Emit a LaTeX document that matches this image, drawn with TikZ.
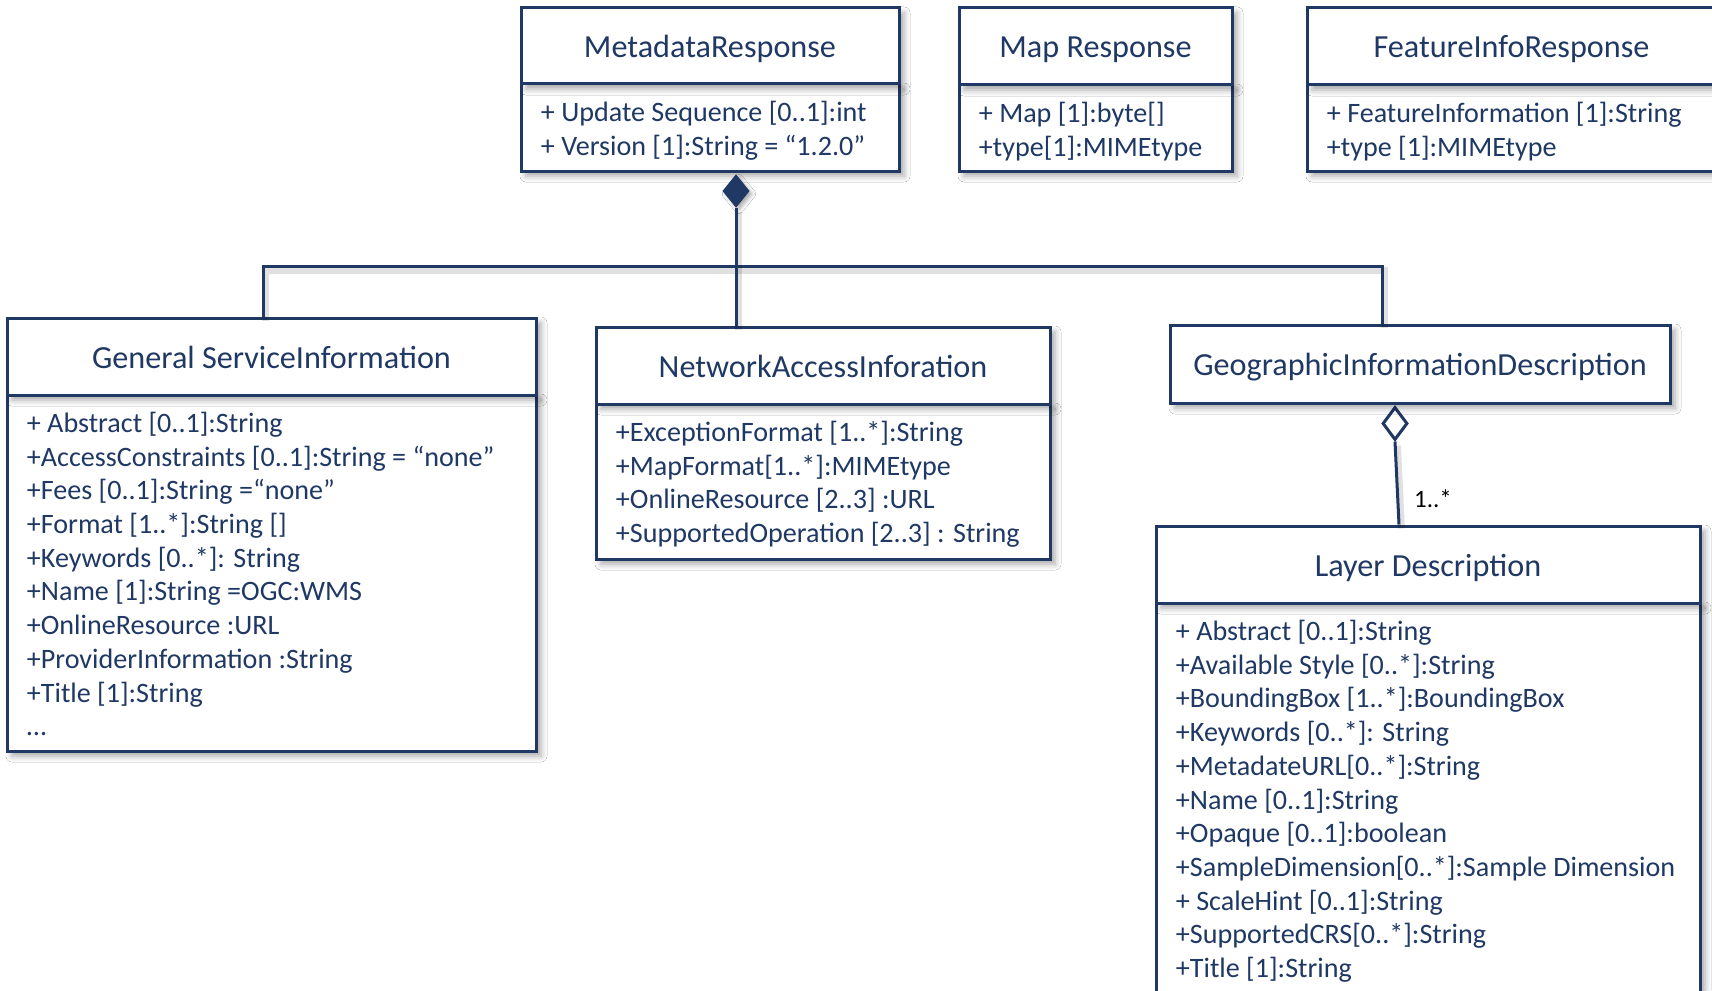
\documentclass[tikz,border=0pt]{standalone}
\usepackage{fontspec}
\setmainfont{Carlito}
\usetikzlibrary{shapes.geometric,shadows.blur,calc}
\definecolor{umlnavy}{HTML}{1F3864}
\tikzset{
  classbox/.style={rectangle, draw=umlnavy, line width=1.5pt, fill=white, inner sep=0pt,
    blur shadow={shadow xshift=2.5pt, shadow yshift=-2.5pt, shadow blur radius=3pt, shadow opacity=35}},
  classhead/.style={classbox, text=umlnavy, font=\fontsize{16.1}{19}\selectfont,
    text height=12.5pt, text depth=1pt},
  attrlist/.style={anchor=north west, align=left, inner sep=0pt, text=umlnavy,
    font=\fontsize{14.05}{16.85}\selectfont},
  wire/.style={draw=umlnavy, line width=1.5pt,
    preaction={draw=black, opacity=0.12, line width=3.5pt, transform canvas={shift={(1.2pt,-2pt)}}}},
  multlabel/.style={inner sep=0pt, text=black, font=\fontsize{12.5}{15}\selectfont},
}
\begin{document}
\begin{tikzpicture}[x=0.5pt, y=-0.5pt]
\useasboundingbox (0,0) rectangle (1712,990);
\fill[white] (0,0) rectangle (1712,990);

% junction points of the composition tree
\coordinate (jl) at (263,266);
\coordinate (jr) at (1382,266);

% ---------- MetadataResponse ----------
\node[classbox, minimum width=189pt, minimum height=43.5pt] (mrb) at (710,127.5) {};
\node[classhead, minimum width=189pt, minimum height=38pt] (mrh) at (710,46) {MetadataResponse};
\node[attrlist] (mrt) at ($(mrb.north west)+(21,15)$)
  {\strut + Update Sequence [0..1]:int\\+ Version [1]:String = “1.2.0”};

% ---------- Map Response ----------
\node[classbox, minimum width=136.5pt, minimum height=43pt] (mpb) at (1095.5,128) {};
\node[classhead, minimum width=136.5pt, minimum height=38.5pt] (mph) at (1095.5,46.5) {Map Response};
\node[attrlist] (mpt) at ($(mpb.north west)+(21,15)$)
  {\strut + Map [1]:byte[]\\+type[1]:MIMEtype};

% ---------- FeatureInfoResponse ----------
\node[classbox, minimum width=204.5pt, minimum height=43pt] (fib) at (1511.5,128) {};
\node[classhead, minimum width=204.5pt, minimum height=38.5pt] (fih) at (1511.5,46.5) {FeatureInfoResponse};
\node[attrlist] (fit) at ($(fib.north west)+(21,15)$)
  {\strut + FeatureInformation [1]:String\\+type [1]:MIMEtype};

% ---------- diamonds of the composition and aggregation ----------
\node[shape=diamond, fill=umlnavy, draw=umlnavy, line width=0.6pt, inner sep=0pt,
      minimum width=13pt, minimum height=16pt,
      blur shadow={shadow xshift=1.5pt, shadow yshift=-1.5pt, shadow blur radius=2pt, shadow opacity=35}]
      (comp) at (736,191) {};
\node[shape=diamond, fill=white, draw=umlnavy, line width=1.5pt, inner sep=0pt,
      minimum width=12.5pt, minimum height=16.5pt] (agg) at (1395,423.5) {};

% ---------- General ServiceInformation ----------
\node[classbox, minimum width=264.5pt, minimum height=178pt] (gsb) at (271.5,573) {};
\node[classhead, minimum width=264.5pt, minimum height=38.5pt] (gsh) at (271.5,356.5) {General ServiceInformation};
\node[attrlist] (gst) at ($(gsb.north west)+(21,15)$)
  {\strut + Abstract [0..1]:String\\
   +AccessConstraints [0..1]:String = “none”\\
   +Fees [0..1]:String =“none”\\
   +Format [1..*]:String []\\
   +Keywords [0..*]: String\\
   +Name [1]:String =OGC:WMS\\
   +OnlineResource :URL\\
   +ProviderInformation :String\\
   +Title [1]:String\\
   …};

% ---------- NetworkAccessInforation ----------
\node[classbox, minimum width=227pt, minimum height=77.5pt] (nab) at (823,481.5) {};
\node[classhead, minimum width=227pt, minimum height=38.5pt] (nah) at (823,365.5) {NetworkAccessInforation};
\node[attrlist] (nat) at ($(nab.north west)+(21,15)$)
  {\strut +ExceptionFormat [1..*]:String\\
   +MapFormat[1..*]:MIMEtype\\
   +OnlineResource [2..3] :URL\\
   +SupportedOperation [2..3] : String};

% ---------- GeographicInformationDescription ----------
\node[classhead, minimum width=250pt, minimum height=39pt] (gidh) at (1420,364) {GeographicInformationDescription};

% ---------- Layer Description ----------
\node[classbox, minimum width=272pt, minimum height=203.5pt] (ldb) at (1428,806.5) {};
\node[classhead, minimum width=272pt, minimum height=38.5pt] (ldh) at (1428,564.5) {Layer Description};
\node[attrlist] (ldt) at ($(ldb.north west)+(21,15)$)
  {\strut + Abstract [0..1]:String\\
   +Available Style [0..*]:String\\
   +BoundingBox [1..*]:BoundingBox\\
   +Keywords [0..*]: String\\
   +MetadateURL[0..*]:String\\
   +Name [0..1]:String\\
   +Opaque [0..1]:boolean\\
   +SampleDimension[0..*]:Sample Dimension\\
   + ScaleHint [0..1]:String\\
   +SupportedCRS[0..*]:String\\
   +Title [1]:String};

% ---------- wires ----------
\draw[wire] (jl |- gsh.north) -- (jl) -- (jr) -- (jr |- gidh.north);
\draw[wire] (comp.south) -- (comp.south |- nah.north);
\draw[wire] (agg.south) -- ($(agg.south |- ldh.north)+(4,0)$);
\node[multlabel] (mult) at (1433,499) {1..*};
\end{tikzpicture}
\end{document}
